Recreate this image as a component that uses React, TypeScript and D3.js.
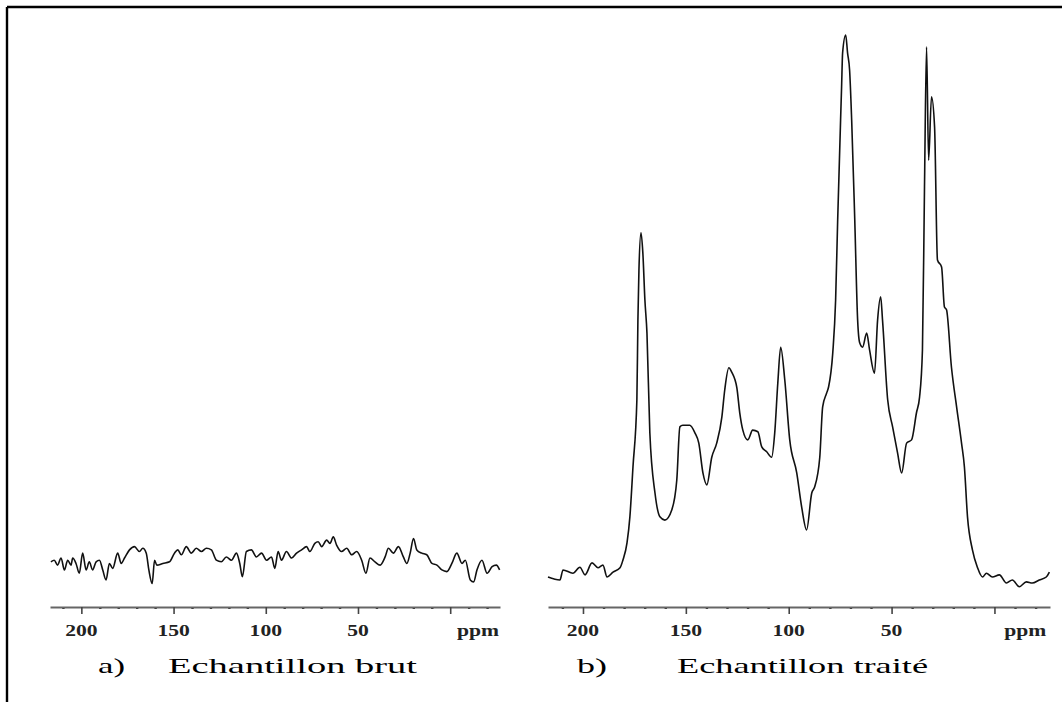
import { useEffect, useRef } from "react";
import * as d3 from "d3";

// chemical shift axis (ppm)
const majorTicks = [200, 150, 100, 50, 0];
const minorTicks = [210, 190, 180, 170, 160, 140, 130, 120, 110, 90, 80, 70, 60, 40, 30, 20, 10, -10, -20];
const labeledTicks = [200, 150, 100, 50];
const unitLabel = "ppm";
const unitPpm = -15;
const panelLetters = ["a)", "b)"];
const panelTitles = ["Echantillon brut", "Echantillon traité"];

// [ppm, intensity] — raw sample (noise only)
const brut: [number, number][] = [
  [216.5, 2.8], [214.7, 3.1], [212.9, 2.2], [211.0, 3.5], [209.2, 1.3], [207.4, 3.1], [205.6, 2.2],
  [204.7, 3.5], [202.9, 2.5], [201.1, 0.7], [199.3, 4.4], [197.4, 1.3], [195.7, 2.8], [193.9, 1.3],
  [192.0, 2.8], [190.2, 3.1], [188.4, 1.3], [186.6, -0.55], [184.8, 2.5], [183.0, 1.6], [180.3, 4.4],
  [178.4, 2.5], [176.6, 3.5], [173.9, 5.0], [171.2, 5.6], [168.5, 4.7], [166.7, 5.3], [164.8, 4.4],
  [163.4, 1.3], [161.6, -1.2], [160.3, 3.1], [159.1, 2.2], [155.8, 2.5], [152.2, 2.8], [149.5, 4.4],
  [147.7, 5.0], [145.8, 4.1], [143.1, 5.6], [140.4, 4.4], [137.7, 5.3], [134.9, 4.7], [132.2, 5.3],
  [129.5, 5.0], [126.8, 3.1], [124.1, 2.8], [121.4, 3.7], [118.6, 3.1], [115.9, 4.4], [114.1, 2.5],
  [112.7, 0.05], [110.5, 4.7], [107.8, 5.0], [105.1, 3.7], [102.3, 4.4], [99.6, 3.1], [96.9, 3.7],
  [95.1, 1.6], [93.3, 4.7], [91.5, 3.1], [88.8, 4.7], [86.0, 3.5], [83.3, 4.4], [80.6, 5.0],
  [77.9, 5.6], [76.1, 4.7], [73.4, 6.2], [71.6, 6.5], [69.7, 5.6], [67.0, 6.8], [65.2, 6.2],
  [63.4, 7.4], [61.6, 5.9], [58.9, 4.7], [56.1, 5.3], [53.4, 4.1], [50.7, 4.7], [48.0, 3.1],
  [45.7, 0.7], [43.5, 3.5], [40.8, 2.8], [38.0, 2.2], [35.3, 3.7], [33.5, 5.3], [30.8, 4.4],
  [28.1, 5.6], [25.4, 3.7], [23.5, 2.5], [21.7, 4.4], [19.9, 7.1], [18.1, 5.0], [15.4, 4.4],
  [12.7, 4.1], [9.9, 2.5], [7.2, 2.2], [4.5, 1.3], [1.8, 1.0], [-0.9, 2.5], [-3.6, 4.4],
  [-6.4, 2.5], [-8.2, 3.1], [-10.9, -0.55], [-12.7, -0.9], [-14.5, 1.3], [-17.2, 3.1],
  [-20.0, 0.7], [-22.7, 1.9], [-25.0, 2.2], [-26.8, 1.3],
];

// treated sample
const traite: [number, number][] = [
  [217.0, 0], [211.2, -0.55], [209.7, 1.3], [204.9, 0.7], [201.5, 1.8], [199.0, 0.4], [195.6, 2.6],
  [192.7, 1.7], [190.3, 2.2], [188.3, 0], [185.4, 0.9], [182.0, 1.7], [180.6, 3.1], [178.6, 6.3],
  [177.2, 11.1], [175.7, 20.3], [173.8, 32.7], [173.3, 47.4], [172.8, 56.6], [171.8, 63.5],
  [170.9, 59.8], [169.9, 51.1], [168.9, 45.0], [167.5, 26.6], [165.0, 15.5], [162.6, 11.1],
  [160.2, 10.5], [156.8, 12.4], [154.4, 17.9], [152.9, 27.7], [151.5, 28.0], [148.1, 28.0],
  [145.6, 26.6], [143.7, 24.7], [141.7, 19.2], [139.8, 17.0], [137.4, 22.1], [135.0, 24.7],
  [132.5, 29.5], [131.1, 34.5], [129.1, 38.6], [127.7, 37.8], [125.2, 34.9], [123.8, 30.3],
  [122.3, 27.1], [119.9, 25.3], [117.5, 27.1], [115.0, 26.8], [113.1, 24.0], [110.7, 23.1],
  [108.3, 22.1], [106.8, 26.6], [105.3, 35.8], [103.9, 42.4], [101.9, 36.3], [99.5, 25.3],
  [96.1, 19.2], [93.7, 12.9], [91.3, 8.7], [88.8, 15.5], [87.4, 16.6], [84.9, 22.1], [83.5, 31.4],
  [81.6, 33.9], [80.6, 35.1], [78.6, 41.3], [77.2, 51.1], [76.2, 65.9], [74.3, 90.4], [73.8, 96.7],
  [72.3, 100], [71.4, 96.7], [70.4, 93.5], [69.4, 84.3], [67.9, 65.9], [66.5, 47.4], [65.5, 43.2],
  [64.1, 42.4], [62.1, 45.0], [60.7, 41.9],
  [58.3, 37.6], [56.8, 47.4], [55.3, 51.7], [54.4, 47.4], [51.9, 32.7], [49.5, 27.7], [47.1, 22.9],
  [45.1, 19.2], [42.7, 24.7], [40.3, 25.3], [37.9, 30.3], [36.4, 33.2], [35.0, 41.9], [34.0, 72.0],
  [33.0, 97.8], [32.0, 76.9], [30.6, 88.6], [29.1, 83.0], [27.7, 58.5], [25.7, 57.2], [24.3, 49.8],
  [23.3, 49.3], [20.9, 38.7], [18.4, 31.4], [16.0, 24.7], [14.6, 20.3], [13.1, 11.1], [10.7, 5.0],
  [8.3, 1.8], [5.8, 0], [3.9, 0.7], [1.0, 0], [-2.4, 0.4], [-5.8, -1.1], [-8.7, -0.55],
  [-12.1, -1.8], [-15.5, -0.9], [-18.4, -1.1], [-21.8, -0.55], [-25.2, 0], [-26.7, 0.9],
];

const spectra = [brut, traite];

const panels = [
  { x0: 50, x1: 500, letterX: 98, letterW: 27, titleX: 168, titleW: 249 },
  { x0: 548, x1: 1050, letterX: 577, letterW: 30, titleX: 677, titleW: 251 },
];

export default function App() {
  const svgRef = useRef<SVGSVGElement>(null);

  useEffect(() => {
    if (!svgRef.current) return;
    const svg = d3.select(svgRef.current);
    svg.selectAll("*").remove();

    // frame (top + left only)
    svg.append("line").attr("x1", 7).attr("y1", 7).attr("x2", 1062).attr("y2", 7)
      .attr("stroke", "#000").attr("stroke-width", 2.4);
    svg.append("line").attr("x1", 7).attr("y1", 7).attr("x2", 7).attr("y2", 702)
      .attr("stroke", "#000").attr("stroke-width", 2.4);

    const y = d3.scaleLinear().domain([0, 100]).range([577, 35]);
    const axisY = 607;
    const font = "'Liberation Serif', 'Times New Roman', serif";

    panels.forEach((p, i) => {
      const x = d3.scaleLinear().domain([217, -27]).range([p.x0, p.x1]);
      const g = svg.append("g");

      // spectrum
      const line = d3.line<[number, number]>()
        .x((d) => x(d[0]))
        .y((d) => y(d[1]))
        .curve(d3.curveMonotoneX);
      g.append("path")
        .datum(spectra[i])
        .attr("fill", "none")
        .attr("stroke", "#111")
        .attr("stroke-width", 1.6)
        .attr("stroke-linejoin", "round")
        .attr("d", line);

      // minor ticks
      g.append("g")
        .attr("transform", `translate(0,${axisY})`)
        .call(d3.axisBottom(x).tickValues(minorTicks).tickSize(2).tickSizeOuter(0).tickFormat(() => ""))
        .call((a) => a.select(".domain").remove())
        .call((a) => a.selectAll(".tick line").attr("stroke", "#222").attr("stroke-width", 2.4));

      // major ticks + axis line
      g.append("g")
        .attr("transform", `translate(0,${axisY})`)
        .call(d3.axisBottom(x).tickValues(majorTicks).tickSize(7).tickSizeOuter(0).tickFormat(() => ""))
        .call((a) => a.select(".domain").attr("stroke", "#666").attr("stroke-width", 2))
        .call((a) => a.selectAll(".tick line").attr("stroke", "#444").attr("stroke-width", 1.6));

      // tick labels
      g.selectAll(".lbl")
        .data(labeledTicks)
        .enter()
        .append("text")
        .attr("transform", (d) => `translate(${x(d)},636) scale(1.27,1)`)
        .attr("text-anchor", "middle")
        .attr("font-family", font)
        .attr("font-weight", "bold")
        .attr("font-size", "17px")
        .attr("fill", "#222")
        .text((d) => String(d));

      g.append("text")
        .attr("transform", `translate(${x(unitPpm)},636) scale(1.27,1)`)
        .attr("text-anchor", "middle")
        .attr("font-family", font)
        .attr("font-weight", "bold")
        .attr("font-size", "17px")
        .attr("fill", "#222")
        .text(unitLabel);

      // caption
      g.append("text")
        .attr("x", p.letterX)
        .attr("y", 673)
        .attr("font-family", font)
        .attr("font-size", "22px")
        .attr("fill", "#000")
        .attr("textLength", p.letterW)
        .attr("lengthAdjust", "spacingAndGlyphs")
        .text(panelLetters[i]);
      g.append("text")
        .attr("x", p.titleX)
        .attr("y", 673)
        .attr("font-family", font)
        .attr("font-size", "22px")
        .attr("fill", "#000")
        .attr("textLength", p.titleW)
        .attr("lengthAdjust", "spacingAndGlyphs")
        .text(panelTitles[i]);
    });
  }, []);

  return (
    <svg
      ref={svgRef}
      width={1062}
      height={702}
      style={{ position: "absolute", left: 0, top: 0, background: "#fff" }}
    />
  );
}
